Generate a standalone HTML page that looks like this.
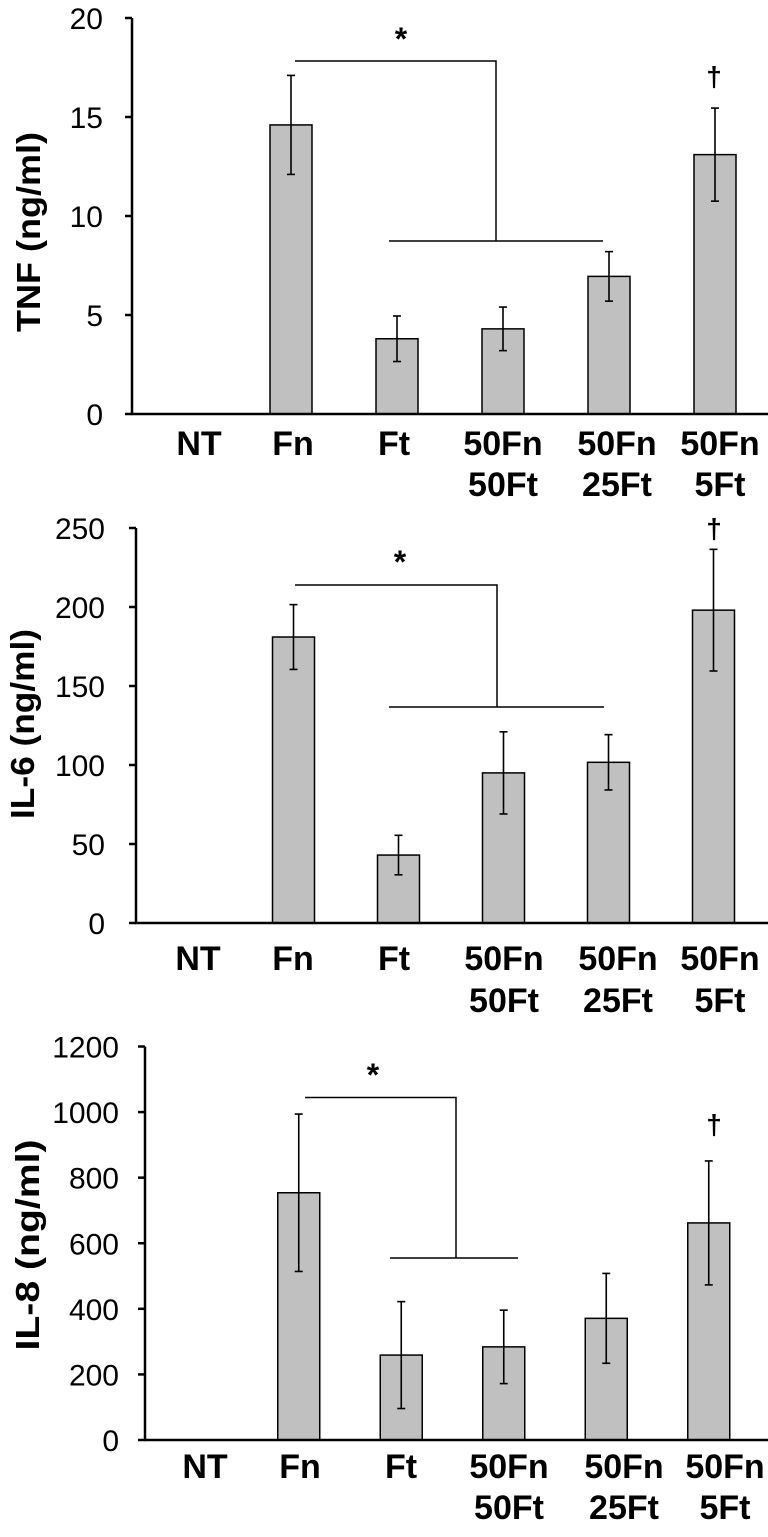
<!DOCTYPE html>
<html><head><meta charset="utf-8"><style>
html,body{margin:0;padding:0;background:#fff}
svg{display:block}
text{font-family:"Liberation Sans",Arial,sans-serif;fill:#000}
</style></head><body>
<svg id="chart" width="768" height="1537" viewBox="0 0 768 1537" xmlns="http://www.w3.org/2000/svg"></svg>
<script>
const categories = [["NT"],["Fn"],["Ft"],["50Fn","50Ft"],["50Fn","25Ft"],["50Fn","5Ft"]];
const tnfValues = [0, 14.6, 3.8, 4.3, 6.95, 13.1];
const tnfErrors = [0, 2.5, 1.15, 1.1, 1.25, 2.35];
const tnfTicks = [0, 5, 10, 15, 20];
const il6Values = [0, 181, 43, 95, 101.7, 198];
const il6Errors = [0, 20.5, 12.5, 26, 17.5, 38.5];
const il6Ticks = [0, 50, 100, 150, 200, 250];
const il8Values = [0, 754, 259, 284, 371, 662];
const il8Errors = [0, 240, 163, 112, 137, 189];
const il8Ticks = [0, 200, 400, 600, 800, 1000, 1200];

const svg = document.getElementById('chart');
const NS = 'http://www.w3.org/2000/svg';
function mk(tag, attrs, parent){
  const e = document.createElementNS(NS, tag);
  for (const k in attrs) e.setAttribute(k, attrs[k]);
  (parent||svg).appendChild(e);
  return e;
}

const panels = [
  {key:'tnf', title:'TNF (ng/ml)', vals:tnfValues, errs:tnfErrors, ticks:tnfTicks,
   x0:132, step:106, y0:414, yTop:18, tickRight:103, titleX:28, titleY:232, titleLen:200,
   lab1:455, lab2:496, labX:[199,293,394,503,617,720],
   br:{ty:61, tx1:295, tx2:496, by:241, bx1:389, bx2:603, sx:401, sy:50, dx:714, dy:86}},
  {key:'il6', title:'IL-6 (ng/ml)', vals:il6Values, errs:il6Errors, ticks:il6Ticks,
   x0:136, step:105, y0:923, yTop:528, tickRight:105, titleX:22, titleY:724, titleLen:190,
   lab1:970, lab2:1012, labX:[198,293,394,504,618,720],
   br:{ty:585, tx1:295, tx2:497, by:707, bx1:389, bx2:604, sx:400, sy:573, dx:714, dy:538}},
  {key:'il8', title:'IL-8 (ng/ml)', vals:il8Values, errs:il8Errors, ticks:il8Ticks,
   x0:145, step:102.5, y0:1440, yTop:1046.5, tickRight:119, titleX:27, titleY:1245, titleLen:211,
   lab1:1478, lab2:1519, labX:[205,300,401,509,624,725],
   br:{ty:1097.5, tx1:305, tx2:456, by:1258, bx1:390, bx2:518, sx:373, sy:1086, dx:714, dy:1134}}
];

panels.forEach(p => {
  const g = mk('g', {});
  
  
  const maxT = p.ticks[p.ticks.length-1];
  const yS = v => p.y0 - (v / maxT) * (p.y0 - p.yTop);
  const xC = i => p.x0 + p.step * (i + 0.5);
  const bw = 42;

  p.vals.forEach((v, i) => {
    if (v <= 0) return;
    const r = mk('rect', {x:xC(i)-bw/2, y:yS(v), width:bw, height:p.y0-yS(v), fill:'#c0c0c0', stroke:'#000', 'stroke-width':1.5}, g);
    
    
  });
  p.vals.forEach((v, i) => {
    const e = p.errs[i];
    if (e <= 0) return;
    const eg = mk('g', {stroke:'#000', 'stroke-width':1.6}, g);
    
    
    const x = xC(i);
    mk('line', {x1:x, x2:x, y1:yS(v+e), y2:yS(v-e)}, eg);
    mk('line', {x1:x-4, x2:x+4, y1:yS(v+e), y2:yS(v+e)}, eg);
    mk('line', {x1:x-4, x2:x+4, y1:yS(v-e), y2:yS(v-e)}, eg);
  });
  const ax = mk('g', {stroke:'#000', 'stroke-width':2.5}, g);
  
  
  mk('line', {x1:p.x0, x2:p.x0, y1:p.yTop, y2:p.y0+1}, ax);
  mk('line', {x1:p.x0-1, x2:768, y1:p.y0, y2:p.y0}, ax);
  p.ticks.forEach(t => {
    mk('line', {x1:p.x0-7, x2:p.x0, y1:yS(t), y2:yS(t)}, ax);
    const tl = mk('text', {x:p.tickRight, y:yS(t)+11, 'text-anchor':'end', 'font-size':30}, g);
    
    
    tl.textContent = t;
  });
  const tt = mk('text', {x:p.titleX, y:p.titleY, 'text-anchor':'middle', 'font-size':33, 'font-weight':'bold', textLength:p.titleLen, lengthAdjust:'spacingAndGlyphs', transform:'rotate(-90 '+p.titleX+' '+p.titleY+')', dy:12}, g);
  
  
  tt.textContent = p.title;
  categories.forEach((c, i) => {
    c.forEach((line, j) => {
      const t = mk('text', {x:p.labX[i], y:j===0?p.lab1:p.lab2, 'text-anchor':'middle', 'font-size':34, 'font-weight':'bold'}, g);
      
      
      t.textContent = line;
    });
  });
  const b = p.br;
  const bg = mk('g', {stroke:'#000', 'stroke-width':1.5, fill:'none'}, g);
  
  
  mk('polyline', {points:`${b.tx1},${b.ty} ${b.tx2},${b.ty} ${b.tx2},${b.by}`}, bg);
  mk('line', {x1:b.bx1, x2:b.bx2, y1:b.by, y2:b.by}, bg);
  const st = mk('text', {x:b.sx, y:b.sy, 'text-anchor':'middle', 'font-size':32, 'font-weight':'bold'}, g);
  
  
  st.textContent = '*';
  const dg = mk('text', {x:b.dx, y:b.dy, 'text-anchor':'middle', 'font-size':28, 'font-weight':'bold'}, g);
  
  
  dg.textContent = '†';
});
</script>
</body></html>
